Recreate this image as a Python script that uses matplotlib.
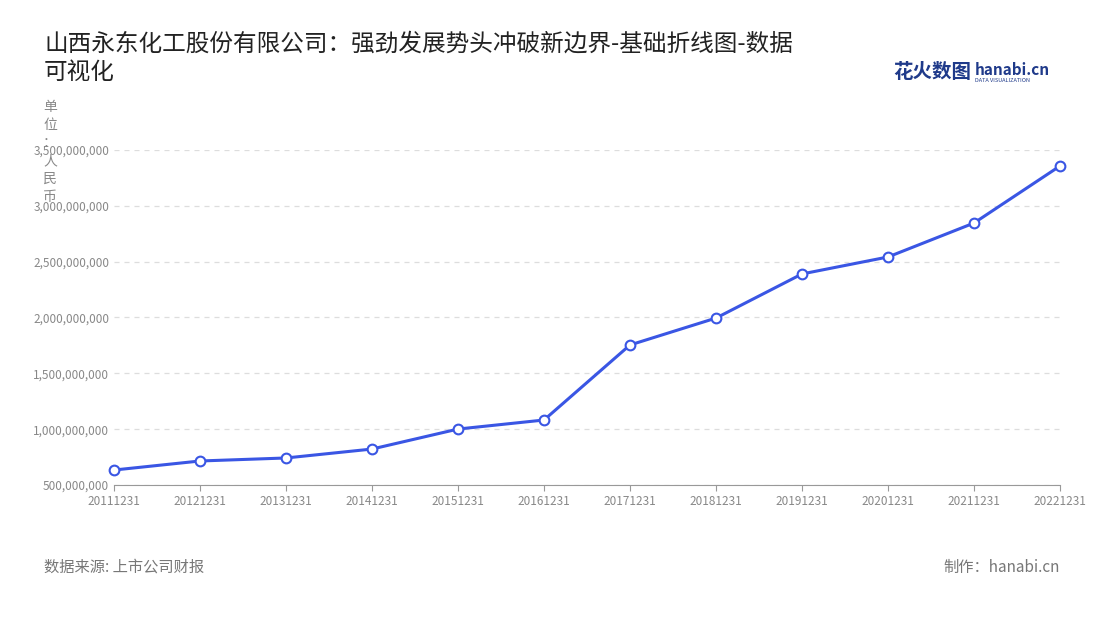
import matplotlib
matplotlib.use("Agg")
import matplotlib.pyplot as plt
from matplotlib.ticker import FuncFormatter

plt.rcParams['font.family'] = ['Noto Sans CJK SC', 'DejaVu Sans']

years = ["20111231","20121231","20131231","20141231","20151231","20161231",
         "20171231","20181231","20191231","20201231","20211231","20221231"]
values = [634e6, 715e6, 742e6, 822e6, 1001e6, 1082e6,
          1754e6, 1995e6, 2390e6, 2542e6, 2846e6, 3357e6]
yticks = [500e6, 1000e6, 1500e6, 2000e6, 2500e6, 3000e6, 3500e6]

fig = plt.figure(figsize=(11, 6.2), dpi=100)
ax = fig.add_axes([114/1100, 1-485/620, (1060-114)/1100, (485-150)/620])
x = list(range(len(years)))
ax.plot(x, values, color="#3a56e4", lw=2.2, marker='o', ms=7,
        mfc='white', mec='#3a56e4', mew=1.5, zorder=3, clip_on=False)
ax.set_xlim(0, len(years)-1)
ax.set_ylim(500e6, 3500e6)
ax.set_yticks(yticks)
ax.yaxis.set_major_formatter(FuncFormatter(lambda v, p: f"{int(v):,}"))
ax.set_xticks(x)
ax.set_xticklabels(years)
ax.tick_params(axis='both', labelsize=8.5, colors='#888888', length=0)
ax.tick_params(axis='x', length=4, color='#999999')
ax.grid(axis='y', ls=(0, (4, 4)), color='#dddddd', lw=0.9)
for s in ['top', 'right', 'left']:
    ax.spines[s].set_visible(False)
ax.spines['bottom'].set_color('#999999')

fig.text(44/1100, 1-58/620, "山西永东化工股份有限公司：强劲发展势头冲破新边界-基础折线图-数据\n可视化",
         fontsize=17, color='#222222', va='center', linespacing=1.3)
fig.text(50/1100, 1-152/620, "单\n位\n：\n人\n民\n币", fontsize=10, color='#888888',
         ha='center', va='center', linespacing=1.35)
fig.text(893/1100, 1-72/620, "花火数图", fontsize=14, color='#1f3a8a', fontweight='bold', va='center')
fig.text(975/1100, 1-70/620, "hanabi.cn", fontsize=11, color='#1f3a8a', fontweight='bold', va='center')
fig.text(975/1100, 1-80/620, "DATA VISUALIZATION", fontsize=4, color='#1f3a8a', va='center')
fig.text(44/1100, 1-567/620, "数据来源: 上市公司财报", fontsize=11, color='#777777', va='center')
fig.text(1060/1100, 1-567/620, "制作：hanabi.cn", fontsize=11, color='#777777', va='center', ha='right')

fig.savefig("out.png", dpi=100, facecolor='white')
